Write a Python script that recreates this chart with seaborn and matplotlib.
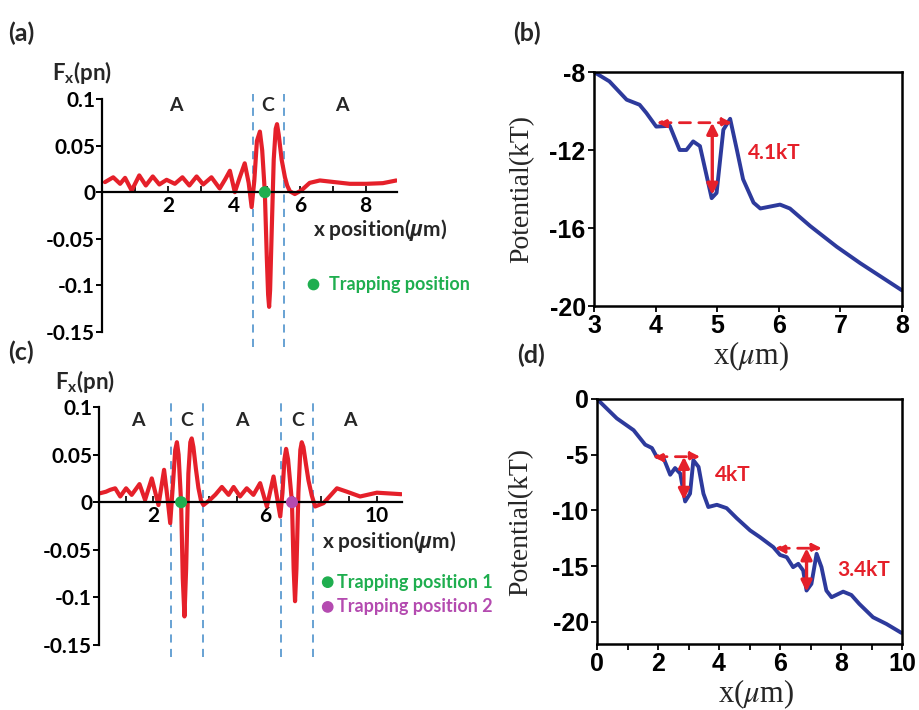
import matplotlib
matplotlib.use("Agg")
import matplotlib.pyplot as plt
from matplotlib.font_manager import FontProperties
import seaborn as sns
import pandas as pd

# ---------------- data ----------------
# (a) optical force, single trap
a_x = [0.09, 0.34, 0.55, 0.70, 0.90, 1.13, 1.33, 1.54, 1.74, 1.96, 2.21, 2.44, 2.65, 2.87, 3.07,
       3.32, 3.57, 3.74, 3.88, 4.03, 4.18, 4.33, 4.45, 4.54, 4.62, 4.70, 4.79, 4.86, 4.94, 5.00,
       5.04, 5.07, 5.10, 5.15, 5.21, 5.27, 5.31, 5.36, 5.45, 5.55, 5.62, 5.70, 5.85, 6.05, 6.30,
       6.61, 7.01, 7.52, 8.02, 8.52, 8.93]
a_f = [0.0108, 0.016, 0.009, 0.0154, 0.0018, 0.018, 0.0072, 0.0169, 0.0083, 0.0133, 0.009, 0.016,
       0.0072, 0.0169, 0.0083, 0.016, 0.004, 0.014, 0.023, 0.0, 0.016, 0.031, 0.010, -0.016, 0.012,
       0.055, 0.065, 0.045, 0.0, -0.07, -0.11, -0.123, -0.105, -0.04, 0.035, 0.068, 0.073, 0.062,
       0.035, 0.016, 0.007, 0.001, -0.002, 0.002, 0.010, 0.0126, 0.011, 0.009, 0.009, 0.0097, 0.0126]
a_bounds = [4.57, 5.52]
a_region_x = [2.23, 5.04, 7.28]
a_region_lbl = ["A", "C", "A"]
a_trap_x = [4.94]
a_trap_f = [0.0]

# (c) optical force, two traps
c_x = [0.09, 0.30, 0.45, 0.63, 0.81, 1.02, 1.22, 1.50, 1.70, 1.94, 2.18, 2.38, 2.50, 2.60, 2.70,
       2.78, 2.84, 2.90, 2.99, 3.05, 3.11, 3.17, 3.25, 3.32, 3.37, 3.43, 3.52, 3.61, 3.70, 3.79,
       4.02, 4.22, 4.45, 4.69, 4.87, 5.10, 5.34, 5.58, 5.82, 6.06, 6.30, 6.54, 6.62, 6.69, 6.75,
       6.82, 6.96, 7.02, 7.07, 7.12, 7.19, 7.26, 7.31, 7.37, 7.46, 7.55, 7.67, 7.79, 8.09, 8.57,
       8.93, 9.40, 10.0, 10.88]
c_f = [0.0094, 0.011, 0.013, 0.0146, 0.006, 0.0146, 0.0077, 0.019, 0.0024, 0.025, -0.003, 0.034,
       0.005, -0.022, 0.02, 0.055, 0.063, 0.05, 0.0, -0.08, -0.12, -0.07, 0.03, 0.063, 0.067, 0.058,
       0.035, 0.015, 0.002, -0.003, 0.0024, 0.008, 0.016, 0.0077, 0.016, 0.006, 0.0146, 0.0077,
       0.020, -0.0045, 0.027, -0.015, 0.01, 0.045, 0.056, 0.045, 0.0, -0.07, -0.104, -0.07, 0.01,
       0.055, 0.063, 0.058, 0.04, 0.023, 0.007, -0.0045, -0.001, 0.0146, 0.011, 0.006, 0.010, 0.0084]
c_bounds = [2.62, 3.79, 6.57, 7.73]
c_region_x = [1.43, 3.19, 5.16, 7.17, 9.04]
c_region_lbl = ["A", "C", "A", "C", "A"]
c_trap_x = [2.99, 6.96]
c_trap_f = [0.0, 0.0]

# (b) potential, single trap
b_x = [3.0, 3.25, 3.53, 3.74, 3.85, 4.01, 4.23, 4.39, 4.5, 4.61, 4.72, 4.91, 4.99, 5.1, 5.21,
       5.32, 5.42, 5.59, 5.7, 6.02, 6.18, 6.51, 6.94, 7.32, 8.0]
b_u = [-8, -8.48, -9.42, -9.68, -10.1, -10.8, -10.76, -12.0, -12.0, -11.56, -11.8, -14.47, -14.2,
       -10.96, -10.4, -12.0, -13.5, -14.7, -15.0, -14.8, -15.0, -15.9, -16.96, -17.8, -19.2]
b_barrier_x = [4.02, 5.24]     # dashed arrow ends
b_barrier_u = -10.6
b_well_x = 4.92
b_well_u = -14.3
b_barrier_lbl = "4.1kT"

# (d) potential, two traps
d_x = [0, 0.65, 1.2, 1.58, 1.8, 1.96, 2.18, 2.4, 2.56, 2.73, 2.89, 3.05, 3.16, 3.33, 3.49, 3.65,
       3.93, 4.25, 4.58, 5.02, 5.34, 5.78, 6.0, 6.22, 6.43, 6.6, 6.76, 6.87, 7.03, 7.2, 7.36, 7.52,
       7.69, 8.07, 8.34, 8.6, 9.05, 9.49, 9.98]
d_u = [0, -1.74, -2.8, -4.1, -4.4, -5.2, -5.3, -6.8, -6.2, -6.7, -9.2, -8.5, -5.5, -6.1, -8.5, -9.7,
       -9.5, -9.8, -10.7, -11.8, -12.4, -13.3, -14.0, -14.2, -15.1, -14.8, -15.4, -17.2, -16.6, -13.9,
       -15.1, -17.2, -17.8, -17.3, -17.6, -18.4, -19.6, -20.2, -21.0]
d_barrier_x = [[1.83, 3.38], [5.84, 7.37]]
d_barrier_u = [-5.18, -13.4]
d_well_x = [2.85, 6.87]
d_well_u = [-9.07, -17.3]
d_barrier_lbl = ["4kT", "3.4kT"]
d_lbl_pos = [(3.87, -6.8), (7.87, -15.35)]

# ---------------- style ----------------
sns.set_theme(style="white")
plt.rcParams["font.family"] = ["Lato", "DejaVu Sans"]
plt.rcParams["mathtext.fontset"] = "custom"
plt.rcParams["mathtext.rm"] = "Lato:bold"
plt.rcParams["mathtext.bf"] = "Lato:bold"
plt.rcParams["mathtext.it"] = "Open Sans:italic:bold"

RED = "#e5202a"
BLUE = "#2d3a9c"
GREEN = "#1fae4f"
MAGENTA = "#b44bb0"
DASH = "#5c9bd0"
W, H = 919, 710

fig = plt.figure(figsize=(W / 100, H / 100), dpi=100)


def px_axes(l, r, t, b):
    return fig.add_axes([l / W, 1 - b / H, (r - l) / W, (b - t) / H])


def force_panel(ax, xs, fs, bounds, rx, rl, rly, tx, tf, tcols, xlim, xmaj, dash_lim):
    df = pd.DataFrame({"x": xs, "f": fs})
    sns.lineplot(data=df, x="x", y="f", ax=ax, color=RED, lw=3.0, sort=False, estimator=None)
    for b in bounds:
        ax.axvline(b, ymin=dash_lim[0], ymax=dash_lim[1], color=DASH, lw=1.3,
                   ls=(0, (4.5, 3.5)), clip_on=False, zorder=1)
    tdf = pd.DataFrame({"x": tx, "f": tf, "c": tcols})
    sns.scatterplot(data=tdf, x="x", y="f", hue="c", palette={c: c for c in tcols}, ax=ax,
                    s=75, edgecolor="none", legend=False, zorder=5)
    for x, l in zip(rx, rl):
        ax.text(x, rly, l, ha="center", va="center", fontsize=14, fontweight="bold")
    for s in ["top", "right"]:
        ax.spines[s].set_visible(False)
    ax.spines["bottom"].set_position(("data", 0))
    for s in ["left", "bottom"]:
        ax.spines[s].set_color("black")
        ax.spines[s].set_linewidth(1.6)
    ax.set_xlim(*xlim)
    ax.set_ylim(-0.15, 0.1)
    fp = FontProperties(family=["Lato", "DejaVu Sans"], weight="bold", size=15)
    ax.set_yticks([0.1, 0.05, 0, -0.05, -0.1, -0.15])
    ax.set_yticklabels(["0.1", "0.05", "0", "-0.05", "-0.1", "-0.15"], fontproperties=fp)
    ax.set_xticks(xmaj)
    ax.set_xticklabels([str(v) for v in xmaj], fontproperties=fp)
    ax.set_xticks(range(1, int(xlim[1]) + 1), minor=True)
    ax.tick_params(axis="y", direction="out", length=4, width=1.4, left=True, pad=1,
                   colors="black")
    ax.tick_params(axis="x", which="both", direction="in", length=4, width=1.2, bottom=True,
                   pad=3, colors="black")
    ax.set_xlabel(r"x position($\mu$m)", fontsize=15, fontweight="bold", ha="left", va="center")
    ax.set_ylabel(r"F$_{\rm x}$(pn)", fontsize=16, fontweight="bold", rotation=0,
                  ha="center", va="center")
    ax.set_facecolor("none")


# (a)
ax_a = px_axes(102, 397, 99, 332)
force_panel(ax_a, a_x, a_f, a_bounds, a_region_x, a_region_lbl, 0.0935, a_trap_x, a_trap_f,
            [GREEN], (0, 8.95), [2, 4, 6, 8], (-0.064, 1.02))
ax_a.xaxis.set_label_coords(0.715, 0.438)
ax_a.yaxis.set_label_coords(-0.068, 1.115)
ax_a.scatter([6.4], [-0.0985], s=55, color=GREEN, clip_on=False, zorder=5)
ax_a.text(6.88, -0.0985, "Trapping position", color=GREEN, fontsize=13, fontweight="bold",
          va="center", ha="left", clip_on=False)

# (c)
ax_c = px_axes(99, 402, 407, 645)
force_panel(ax_c, c_x, c_f, c_bounds, c_region_x, c_region_lbl, 0.086, c_trap_x, c_trap_f,
            [GREEN, MAGENTA], (0.05, 10.9), [2, 6, 10], (-0.05, 1.016))
ax_c.xaxis.set_label_coords(0.736, 0.432)
ax_c.yaxis.set_label_coords(-0.046, 1.108)
ax_c.scatter([8.24, 8.24], [-0.084, -0.110], s=55, color=[GREEN, MAGENTA], clip_on=False, zorder=5)
ax_c.text(8.57, -0.084, "Trapping position 1", color=GREEN, fontsize=13, fontweight="bold",
          va="center", ha="left", clip_on=False)
ax_c.text(8.57, -0.110, "Trapping position 2", color=MAGENTA, fontsize=13, fontweight="bold",
          va="center", ha="left", clip_on=False)


def potential_panel(ax, xs, us, xlim, ylim, xt, yt, xminor):
    df = pd.DataFrame({"x": xs, "u": us})
    sns.lineplot(data=df, x="x", y="u", ax=ax, color=BLUE, lw=2.8, sort=False, estimator=None)
    ax.set_xlim(*xlim)
    ax.set_ylim(*ylim)
    fp = FontProperties(family=["Liberation Sans Narrow", "Liberation Sans"], weight="bold",
                        size=18)
    ax.set_xticks(xt)
    ax.set_xticklabels([str(v) for v in xt], fontproperties=fp)
    ax.set_yticks(yt)
    ax.set_yticklabels([str(v) for v in yt], fontproperties=fp)
    if xminor:
        ax.set_xticks(xminor, minor=True)
    for s in ax.spines.values():
        s.set_visible(True)
        s.set_color("black")
        s.set_linewidth(1.8)
    ax.tick_params(axis="both", which="both", direction="out", length=4, width=1.3,
                   bottom=True, left=True, colors="black", pad=2)
    ax.set_xlabel(r"x($\mu$m)", fontsize=22, fontfamily="Liberation Serif", math_fontfamily="stix",
                  va="center")
    ax.set_ylabel("Potential(kT)", fontsize=20, fontfamily="Liberation Serif", va="center")
    ax.set_facecolor("none")


def arrows(ax, xl, xr, ytop, xw, ybot):
    ax.annotate("", xy=(xr, ytop), xytext=(xl, ytop),
                arrowprops=dict(arrowstyle="<|-|>", color=RED, lw=2, ls=(0, (4, 3)),
                                mutation_scale=14, shrinkA=0, shrinkB=0))
    ax.annotate("", xy=(xw, ybot), xytext=(xw, ytop),
                arrowprops=dict(arrowstyle="<|-|>", color=RED, lw=2.4,
                                mutation_scale=16, shrinkA=0, shrinkB=0))


# (b)
ax_b = px_axes(594, 902, 72, 306)
potential_panel(ax_b, b_x, b_u, (3, 8), (-20, -8), [3, 4, 5, 6, 7, 8], [-8, -12, -16, -20], None)
arrows(ax_b, b_barrier_x[0], b_barrier_x[1], b_barrier_u, b_well_x, b_well_u)
ax_b.text(5.5, -12.15, b_barrier_lbl, color=RED, fontsize=15, fontweight="bold", va="center")
ax_b.xaxis.set_label_coords(0.51, -0.215)
ax_b.yaxis.set_label_coords(-0.235, 0.5)

# (d)
ax_d = px_axes(597, 902, 399, 644)
potential_panel(ax_d, d_x, d_u, (0, 10), (-22, 0), [0, 2, 4, 6, 8, 10], [0, -5, -10, -15, -20],
                [1, 3, 5, 7, 9])
for i in range(2):
    arrows(ax_d, d_barrier_x[i][0], d_barrier_x[i][1], d_barrier_u[i], d_well_x[i], d_well_u[i])
    ax_d.text(d_lbl_pos[i][0], d_lbl_pos[i][1], d_barrier_lbl[i], color=RED, fontsize=15,
              fontweight="bold", va="center")
ax_d.xaxis.set_label_coords(0.52, -0.205)
ax_d.yaxis.set_label_coords(-0.25, 0.5)

# panel labels
for lbl, x, y in [("(a)", 8, 33), ("(b)", 513, 33), ("(c)", 8, 352), ("(d)", 517, 355)]:
    fig.text(x / W, 1 - y / H, lbl, fontsize=18, fontweight="bold", va="center", ha="left")

fig.savefig("out.png", dpi=100, facecolor="white")
